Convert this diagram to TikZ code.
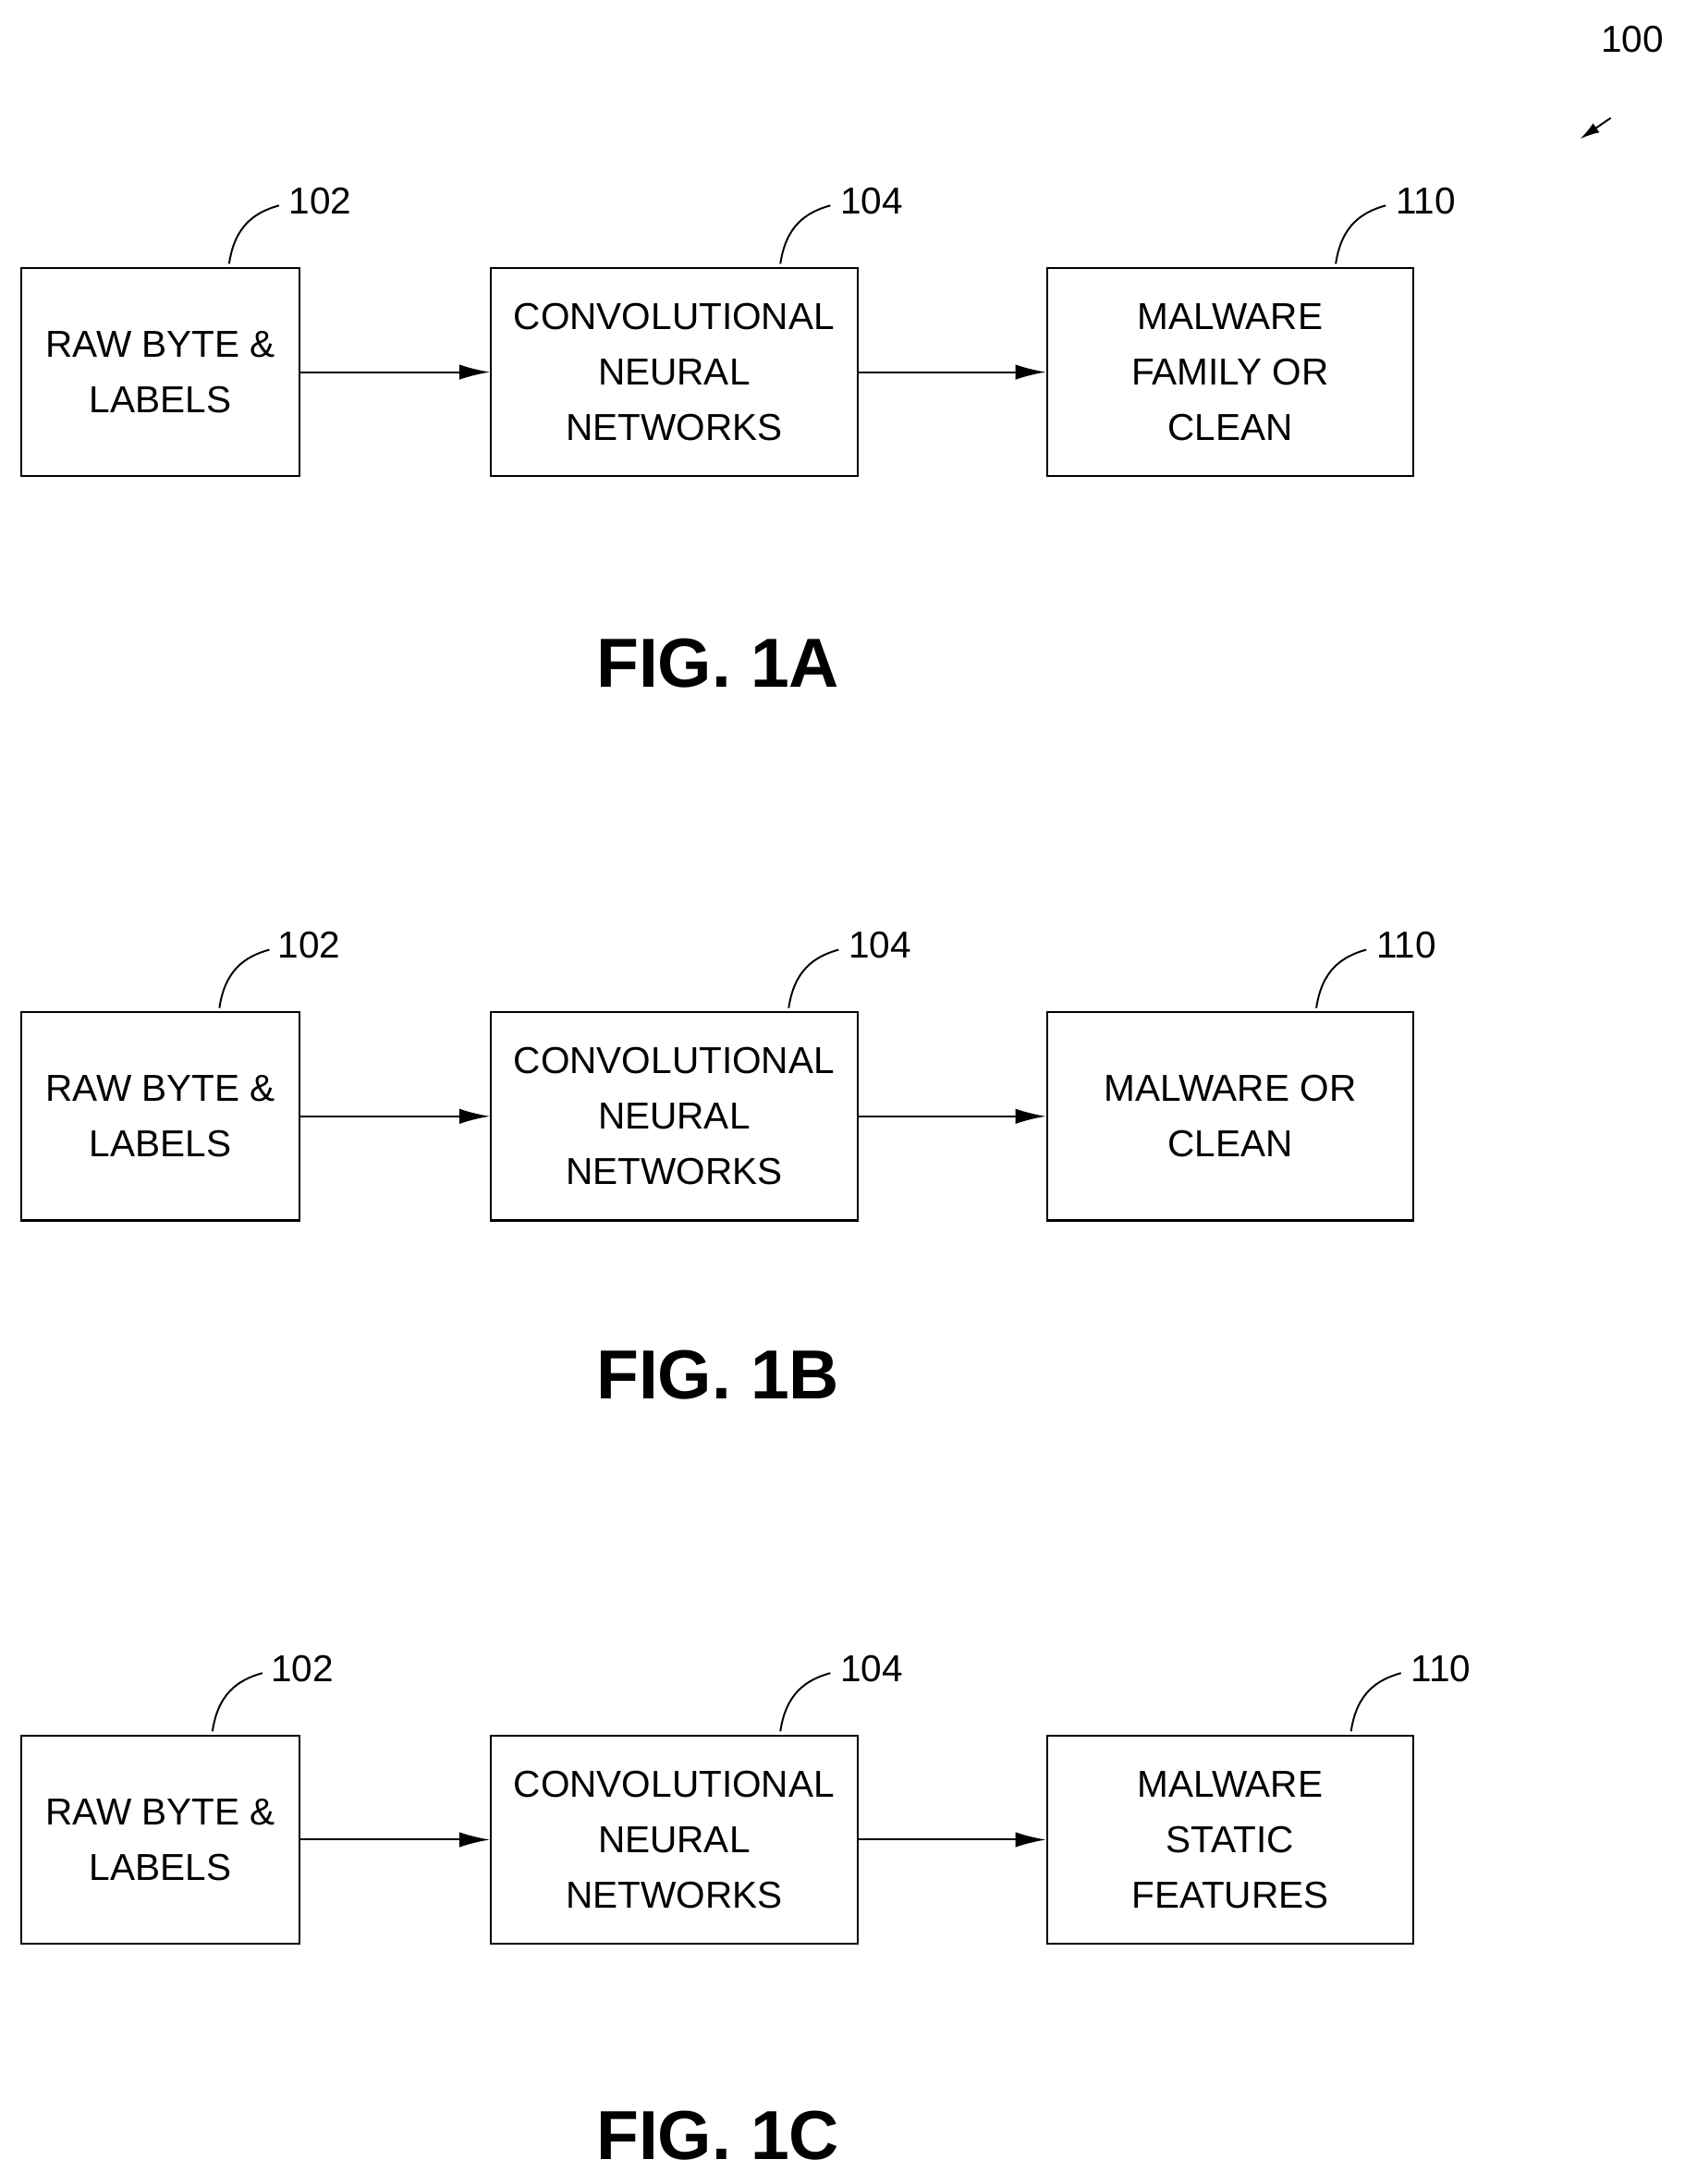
\documentclass[tikz,border=0pt]{standalone}
\usepackage{fontspec}
\setmainfont{Liberation Sans}
\usetikzlibrary{arrows.meta}
\begin{document}
\begin{tikzpicture}[x=1pt,y=-1pt,
 box/.style={draw,line width=1.5pt,minimum height=150pt,align=center,font=\fontsize{27}{40}\selectfont,inner sep=0pt},
 arr/.style={line width=1.3pt,-{Latex[length=22pt,width=11pt]}},
 lead/.style={line width=1.3pt},
 num/.style={font=\fontsize{27}{30}\selectfont,anchor=west,inner sep=0pt},
 fig/.style={font=\bfseries\fontsize{50}{55}\selectfont}]
\useasboundingbox (0,0) rectangle (1213,1573);
% 100
\node[num] (n100) at (1153,28) {100};
\draw[arr,-{Latex[length=14pt,width=8pt]}] (1160,85) -- (1138,100);
\foreach \r/\y/\t/\nA/\nB/\nC/\xa/\xb/\xc in {a/268/{MALWARE\\FAMILY OR\\CLEAN}/230/627/1027/203/600/1000,
  b/804/{MALWARE OR\\CLEAN}/222/633/1013/196/606/986,
  c/1325/{MALWARE\\STATIC\\FEATURES}/217/627/1038/191/600/1011}{
 \node[box,minimum width=200pt] (r1\r) at (115.5,\y) {RAW BYTE \&\\LABELS};
 \node[box,minimum width=264pt] (r2\r) at (485.5,\y) {CONVOLUTIONAL\\NEURAL\\NETWORKS};
 \node[box,minimum width=264pt] (r3\r) at (886,\y) {\t};
 \draw[arr] (r1\r) -- (r2\r);
 \draw[arr] (r2\r) -- (r3\r);
 \node[num] (l1\r) at (\nA-22,\y-123) {\ifx\r c102\else102\fi};
 \node[num] (l2\r) at (\nB-22,\y-123) {104};
 \node[num] (l3\r) at (\nC-22,\y-123) {\ifx\r a106\else\ifx\r b108\else110\fi\fi};
 \draw[lead] (\xa-38,\y-78) .. controls (\xa-34,\y-105) and (\xa-20,\y-115) .. (\xa-2,\y-120);
 \draw[lead] (\xb-38,\y-78) .. controls (\xb-34,\y-105) and (\xb-20,\y-115) .. (\xb-2,\y-120);
 \draw[lead] (\xc-38,\y-78) .. controls (\xc-34,\y-105) and (\xc-20,\y-115) .. (\xc-2,\y-120);
}
\node[fig] (fa) at (517,478) {FIG. 1A};
\node[fig] (fb) at (517,990) {FIG. 1B};
\node[fig] (fc) at (517,1538) {FIG. 1C};
\end{tikzpicture}
\end{document}
